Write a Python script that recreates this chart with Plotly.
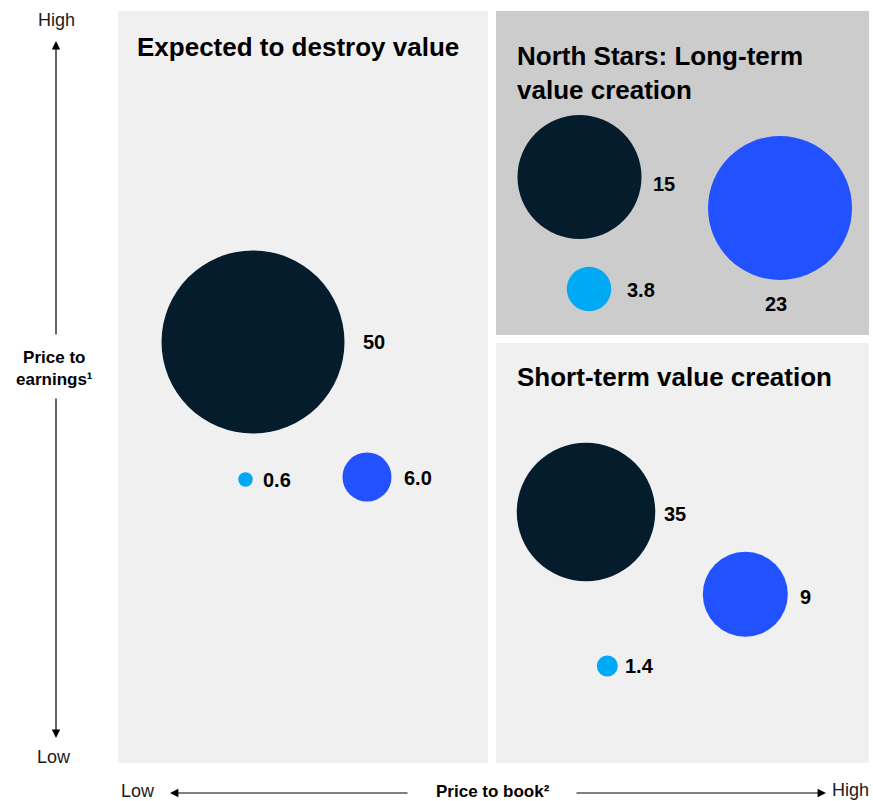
import plotly.graph_objects as go

# ---------------- data ----------------
quadrants = ["Expected to destroy value",
             "North Stars: Long-term<br>value creation",
             "Short-term value creation"]
series_names = ["Series A", "Series B", "Series C"]
values_destroy = [50, 6.0, 0.6]
values_north = [15, 23, 3.8]
values_short = [35, 9, 1.4]
labels_destroy = ["50", "6.0", "0.6"]
labels_north = ["15", "23", "3.8"]
labels_short = ["35", "9", "1.4"]
y_axis_title = "Price to<br>earnings¹"
x_axis_title = "Price to book²"
axis_low, axis_high = "Low", "High"

# ---------------- layout / style ----------------
W, H = 873, 801
FONT = "Liberation Sans, Arial, sans-serif"
colors = ["#051C2C", "#2251FF", "#00A9F4"]

panels = [  # x0, x1, y0, y1, fill
    (118, 488, 11, 763, "#F0F0F0"),
    (496, 869, 11, 335, "#CCCCCC"),
    (496, 869, 343, 763, "#F0F0F0"),
]
title_pos = [(135, 47), (515, 73), (515, 377)]

# bubble centres, diameters (px) and label anchors, per quadrant (series order)
centres = [
    [(253, 342), (367, 477), (245.5, 479.5)],
    [(579.5, 177), (780, 208), (589, 289)],
    [(586, 512), (745.3, 594.3), (607.3, 666)],
]
diameters = [
    [183, 49, 14.5],
    [124, 144, 44.5],
    [138.5, 85, 21],
]
label_pos = [  # (x, y, xanchor)
    [(361, 342, "left"), (402, 478, "left"), (261, 480, "left")],
    [(651, 184, "left"), (776, 304, "center"), (625, 290, "left")],
    [(662, 514, "left"), (798, 597, "left"), (623, 666, "left")],
]

values = [values_destroy, values_north, values_short]
labels = [labels_destroy, labels_north, labels_short]

fig = go.Figure()

shapes = []
for (x0, x1, y0, y1, fill) in panels:
    shapes.append(dict(type="rect", xref="x", yref="y", x0=x0, x1=x1, y0=y0, y1=y1,
                       fillcolor=fill, line=dict(width=0), layer="below"))

for s in range(3):
    xs = [centres[q][s][0] for q in range(3)]
    ys = [centres[q][s][1] for q in range(3)]
    sz = [diameters[q][s] for q in range(3)]
    cd = [values[q][s] for q in range(3)]
    fig.add_trace(go.Scatter(
        x=xs, y=ys, mode="markers", name=series_names[s],
        customdata=cd,
        hovertemplate="%{customdata}<extra></extra>",
        marker=dict(size=sz, sizemode="diameter", sizeref=1, color=colors[s],
                    opacity=1, line=dict(width=0)),
        showlegend=False))

annotations = []
for q in range(3):
    tx, ty = title_pos[q]
    annotations.append(dict(x=tx, y=ty, xref="x", yref="y", text="<b>" + quadrants[q] + "</b>",
                            showarrow=False, xanchor="left", yanchor="middle", align="left",
                            font=dict(family=FONT, size=26, color="#000000")))
    for s in range(3):
        lx, ly, xa = label_pos[q][s]
        annotations.append(dict(x=lx, y=ly, xref="x", yref="y", text="<b>" + labels[q][s] + "</b>",
                                showarrow=False, xanchor=xa, yanchor="middle",
                                font=dict(family=FONT, size=20, color="#000000")))

# axis arrows
arrow_style = dict(xref="x", yref="y", axref="x", ayref="y", text="", showarrow=True,
                   arrowhead=2, arrowsize=1.4, arrowwidth=1.2, arrowcolor="#000000", standoff=0)
annotations += [
    dict(x=56, y=41, ax=56, ay=336, **arrow_style),
    dict(x=56, y=738, ax=56, ay=397, **arrow_style),
    dict(x=170, y=793, ax=409, ay=793, **arrow_style),
    dict(x=826, y=793, ax=575, ay=793, **arrow_style),
]
ax_font = dict(family=FONT, size=18, color="#1a1a1a")
annotations += [
    dict(x=56, y=20, xref="x", yref="y", text=axis_high, showarrow=False, font=ax_font),
    dict(x=54, y=757, xref="x", yref="y", text=axis_low, showarrow=False, font=ax_font),
    dict(x=54, y=368, xref="x", yref="y", text="<b>" + y_axis_title + "</b>", showarrow=False,
         font=dict(family=FONT, size=17, color="#000000")),
    dict(x=138, y=791, xref="x", yref="y", text=axis_low, showarrow=False, font=ax_font),
    dict(x=493, y=791, xref="x", yref="y", text="<b>" + x_axis_title + "</b>", showarrow=False,
         font=dict(family=FONT, size=17, color="#000000")),
    dict(x=850, y=790, xref="x", yref="y", text=axis_high, showarrow=False, font=ax_font),
]

fig.update_layout(
    width=W, height=H, margin=dict(l=0, r=0, t=0, b=0),
    paper_bgcolor="#FFFFFF", plot_bgcolor="#FFFFFF",
    xaxis=dict(range=[0, W], visible=False, fixedrange=True),
    yaxis=dict(range=[H, 0], visible=False, fixedrange=True),
    shapes=shapes, annotations=annotations,
    hovermode="closest",
)

fig.write_html(
    "out.html",
    config={"displayModeBar": False},
    post_script="document.body.style.margin='0';document.body.style.overflow='hidden';",
)
